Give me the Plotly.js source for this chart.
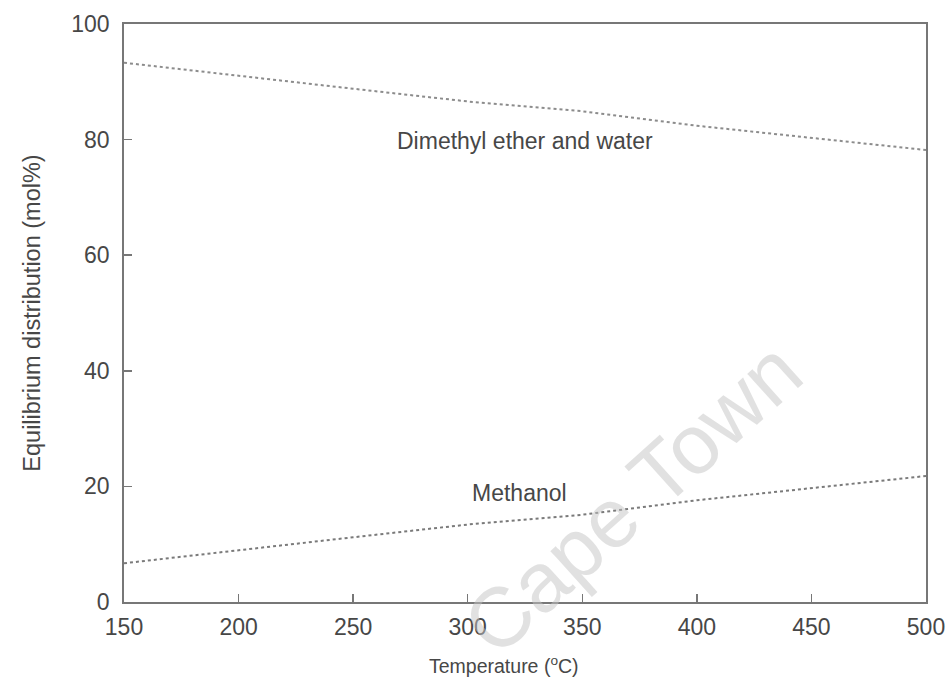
<!DOCTYPE html>
<html>
<head>
<meta charset="utf-8">
<script src="https://cdn.plot.ly/plotly-3.0.1.min.js"></script>
<style>html,body{margin:0;padding:0;background:#fff;}#chart{width:951px;height:678px;}</style>
</head>
<body>
<div id="chart"></div>
<script>
const temperature = [150, 200, 250, 300, 350, 400, 450, 500];
const dimethylEtherWater = [93.3, 91.0, 88.8, 86.6, 84.9, 82.4, 80.3, 78.2];
const methanol = [6.7, 9.0, 11.2, 13.4, 15.1, 17.6, 19.7, 21.8];
const xTicks = [150, 200, 250, 300, 350, 400, 450, 500];
const yTicks = [0, 20, 40, 60, 80, 100];

const FONT = 'Liberation Sans, Arial, Helvetica, sans-serif';
const TXT = '#474747';
const traces = [
  {x: temperature, y: dimethylEtherWater, mode: 'lines', name: 'Dimethyl ether and water',
   line: {color: '#8c8c8c', width: 2, dash: 'dot'}, hoverinfo: 'skip'},
  {x: temperature, y: methanol, mode: 'lines', name: 'Methanol',
   line: {color: '#7a7a7a', width: 2, dash: 'dot'}, hoverinfo: 'skip'}
];
const layout = {
  width: 951, height: 678,
  margin: {l: 124, r: 25, t: 24, b: 76},
  paper_bgcolor: '#fff', plot_bgcolor: '#fff',
  showlegend: false,
  font: {family: FONT, color: TXT, size: 22},
  xaxis: {
    range: [150, 500], tickvals: xTicks, ticktext: xTicks.map(String),
    ticks: 'inside', ticklen: 8, tickwidth: 1.5, tickcolor: '#777',
    showline: true, linecolor: '#777', linewidth: 1.8, mirror: true,
    showgrid: false, zeroline: false, ticklabelstandoff: 4,
    tickfont: {size: 23, color: TXT}
  },
  yaxis: {
    range: [0, 100], tickvals: yTicks, ticktext: yTicks.map(String),
    ticks: 'inside', ticklen: 8, tickwidth: 1.5, tickcolor: '#777',
    showline: true, linecolor: '#777', linewidth: 1.8, mirror: true,
    showgrid: false, zeroline: false, ticklabelstandoff: 8,
    tickfont: {size: 23, color: TXT},
    title: {text: 'Equilibrium distribution (mol%)', font: {size: 23.5, color: TXT}, standoff: 24}
  },
  annotations: [
    {x: 0.474, y: -0.109, xref: 'paper', yref: 'paper', xanchor: 'center', yanchor: 'middle',
     text: 'Temperature (<sup>o</sup>C)', showarrow: false, font: {size: 19.5, color: TXT, family: FONT}},
    {x: 325, y: 79.8, xref: 'x', yref: 'y', text: 'Dimethyl ether and water', showarrow: false,
     font: {size: 23, color: TXT, family: FONT}},
    {x: 322.8, y: 18.9, xref: 'x', yref: 'y', text: 'Methanol', showarrow: false,
     font: {size: 23, color: TXT, family: FONT}},
    {x: 0.634, y: 0.18, xref: 'paper', yref: 'paper', xanchor: 'center', yanchor: 'middle',
     text: 'Cape Town', showarrow: false, textangle: -42,
     font: {size: 84, color: 'rgba(195,195,195,0.5)', family: FONT}}
  ]
};
Plotly.newPlot('chart', traces, layout, {displayModeBar: false, staticPlot: true});
</script>
</body>
</html>
